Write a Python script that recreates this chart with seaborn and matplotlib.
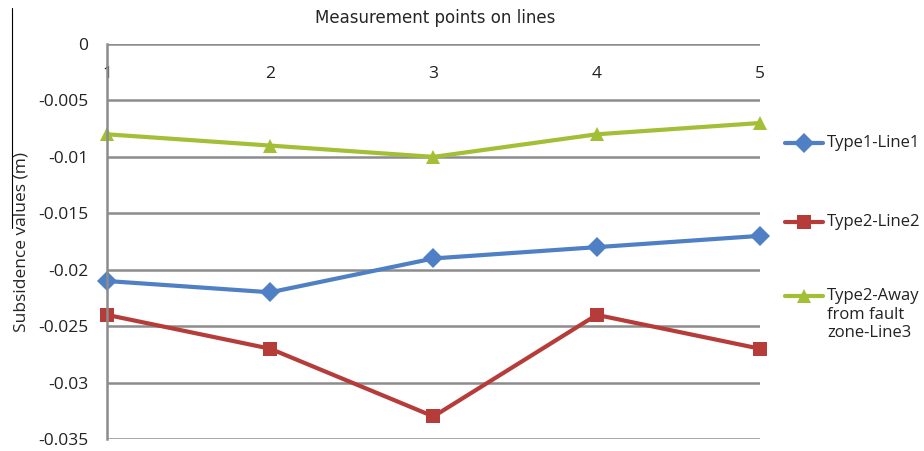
import matplotlib
matplotlib.use('Agg')
import numpy as np
import pandas as pd
import seaborn as sns
import matplotlib.pyplot as plt
from matplotlib.lines import Line2D

points = [1, 2, 3, 4, 5]
line1 = [-0.021, -0.022, -0.019, -0.018, -0.017]
line2 = [-0.024, -0.027, -0.033, -0.024, -0.027]
line3 = [-0.008, -0.009, -0.010, -0.008, -0.007]
names = ['Type1-Line1', 'Type2-Line2', 'Type2-Away\nfrom fault\nzone-Line3']
yticks = [0, -0.005, -0.01, -0.015, -0.02, -0.025, -0.03, -0.035]

colors = ['#4F7FC4', '#B63C3A', '#A3BF35']
markers = ['D', 's', '^']

df = pd.DataFrame({
    'Point': points * 3,
    'Value': line1 + line2 + line3,
    'Series': [names[0]] * 5 + [names[1]] * 5 + [names[2]] * 5,
})

sns.set_style('white')
plt.rcParams['font.family'] = ['Open Sans', 'DejaVu Sans']

fig = plt.figure(figsize=(9.24, 4.51), dpi=100)
ax = fig.add_axes([0.1158, 0.0266, 0.7067, 0.8758])

sns.lineplot(data=df, x='Point', y='Value', hue='Series', style='Series',
             palette=dict(zip(names, colors)), markers=dict(zip(names, markers)),
             dashes=False, linewidth=3, markersize=10, markeredgewidth=0,
             legend=False, ax=ax, clip_on=False)

ax.set_xlim(1, 5)
ax.set_ylim(-0.035, 0)
ax.set_yticks(yticks)
ax.set_yticklabels(['0', '-0.005', '-0.01', '-0.015', '-0.02', '-0.025', '-0.03', '-0.035'])
ax.set_xticks(points)
ax.yaxis.grid(True, color='#8C8C8C', linewidth=1.8)
ax.set_axisbelow(True)
for s in ['top', 'right', 'bottom']:
    ax.spines[s].set_visible(False)
ax.spines['left'].set_color('#8C8C8C')
ax.spines['left'].set_linewidth(1.8)

ax.tick_params(axis='y', left=False, labelsize=12.5, pad=10, colors='#222222')
ax.tick_params(axis='x', bottom=False, labelbottom=False, top=False, labeltop=True,
               labelsize=12.5, pad=-31, colors='#222222')
ax.set_xlabel('')
ax.set_ylabel('Subsidence values (m)', fontsize=12.5)
ax.yaxis.set_label_coords(-0.118, 0.5)

fig.text(0.471, 0.96, 'Measurement points on lines', ha='center', va='center',
         fontsize=12, family=['Liberation Sans Narrow', 'DejaVu Sans'])

# legend on the right, handle next to first text line
leg_y = [143, 222, 296]
for name, c, m, yy in zip(names, colors, markers, leg_y):
    yf = 1 - yy / 451
    fig.add_artist(Line2D([785 / 924, 823 / 924], [yf, yf], color=c, lw=3))
    fig.add_artist(Line2D([804 / 924], [yf], color=c, marker=m, markersize=10,
                          markeredgewidth=0))
    fig.text(827 / 924, yf + 0.0175, name, ha='left', va='top', fontsize=12,
             linespacing=1.2, color='#222222')

# stray line at left edge of the original figure
fig.add_artist(Line2D([12 / 924, 12 / 924], [1 - 8 / 451, 1 - 228 / 451],
                      color='black', lw=0.8))

plt.savefig('out.png', dpi=100)
